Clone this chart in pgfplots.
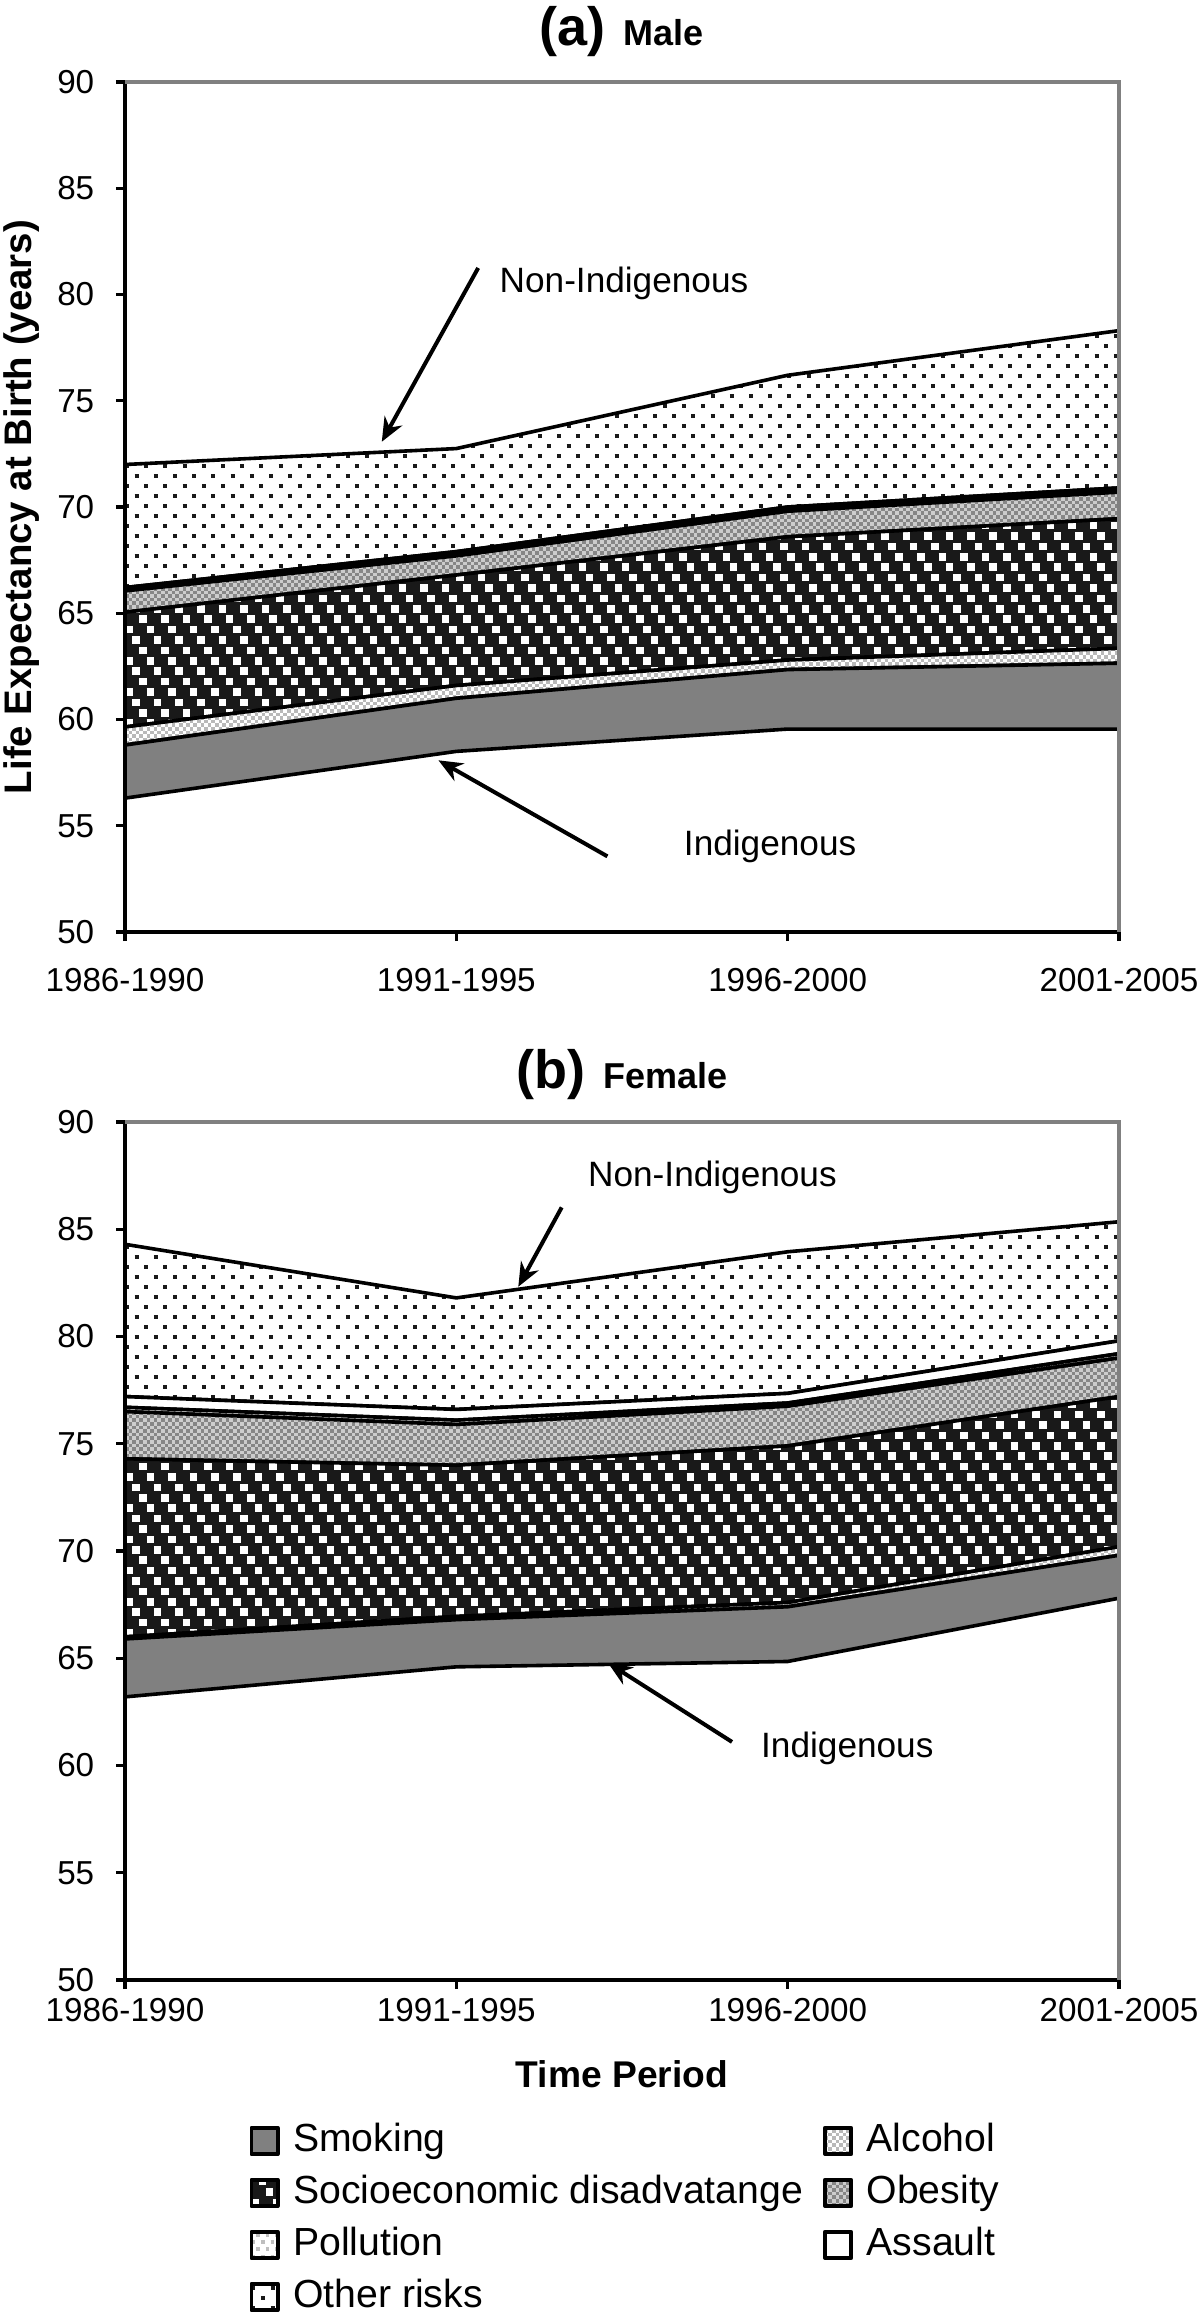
\documentclass[border=0pt]{standalone}
\usepackage{fontspec}
\setmainfont{Liberation Sans}
\usepackage{pgfplots}
\pgfplotsset{compat=1.18}
\usetikzlibrary{arrows.meta}

% texture made of dashed rows, clipped to the filled area (basic layer only)
% #1 colour, #2 dot size, #3 gap, #4 row pitch, #5 shift per row, #6 rows
\newcommand\rowtexture[6]{%
  \begin{pgfscope}%
  \pgfsetstrokecolor{#1}%
  \pgfsetlinewidth{#2}%
  \pgfsetbuttcap
  \pgfpointanchor{path picture bounding box}{south west}\pgfgetlastxy\llx\lly
  \pgfpointanchor{path picture bounding box}{north east}\pgfgetlastxy\urx\ury
  \foreach \i in {0,...,#6}{%
    \pgfmathsetmacro\ph{mod(\i*#5,#2+#3)}%
    \pgfmathsetmacro\yy{\lly+\i*#4+0.5*#2}%
    \pgfsetdash{{#2}{#3}}{\ph pt}%
    \pgfpathmoveto{\pgfqpoint{\llx}{\yy pt}}%
    \pgfpathlineto{\pgfqpoint{\urx}{\yy pt}}%
    \pgfusepath{stroke}%
  }%
  \end{pgfscope}}

\tikzset{
  arr/.style={line width=1pt, -{Stealth[length=6pt,width=5pt]}},
  note/.style={font=\fontsize{8.8}{10}\selectfont},
}

\pgfplotsset{
  edge/.style={draw=black, line width=0.9pt, line join=round},
  smoking/.style={fill=gray, edge},
  alcohol/.style={fill=white, edge,
    path picture={\rowtexture{gray!55}{0.9pt}{0.9pt}{0.9pt}{0.9pt}{42}}},
  socio/.style={fill=black!90, edge,
    path picture={\rowtexture{white}{1.9pt}{3.5pt}{2.6pt}{1.8pt}{28}}},
  obesity/.style={fill=gray!40, edge,
    path picture={\rowtexture{gray!95}{0.9pt}{0.9pt}{0.9pt}{0.9pt}{42}}},
  pollution/.style={fill=white, edge,
    path picture={\rowtexture{gray!50}{0.9pt}{1.5pt}{1.8pt}{1.2pt}{22}}},
  assault/.style={fill=white, edge},
  other/.style={fill=white, edge,
    path picture={\rowtexture{black!90}{1pt}{3.8pt}{2.5pt}{2.4pt}{30}}},
  common/.style={
    scale only axis, width=248.5pt,
    anchor=north west,
    xmin=0, xmax=3, ymin=50, ymax=90,
    xtick={0,1,2,3},
    xticklabels={1986-1990,1991-1995,1996-2000,2001-2005},
    ytick={50,55,...,90},
    axis lines=left,
    axis line style={-, line width=0.8pt},
    tick style={black, line width=0.8pt},
    major tick length=2.25pt,
    tick align=outside,
    stack plots=y,
    clip=false,
    /pgf/number format/assume math mode=true,
    ticklabel style={font=\fontsize{8.3}{10}\selectfont},
    yticklabel style={anchor=east, inner sep=0pt, xshift=-5.25pt},
    title style={at={(axis description cs:0.5,1)}, anchor=base, inner sep=0pt},
    legend image code/.code={
      \draw[##1] (0pt,-3.3pt) rectangle (6.6pt,3.3pt);
    },
  },
}

\begin{document}
\begin{tikzpicture}
\path[use as bounding box] (0,0) rectangle (300pt,-580.5pt);

% (a) Male
\begin{axis}[common,
  at={(31.25pt,-20.5pt)}, height=212.5pt,
  title={{\fontsize{13.5}{15}\selectfont\bfseries (a)}\hspace{4.5pt}{\fontsize{9}{10}\selectfont\bfseries Male}},
  title style={yshift=3pt},
  xticklabel style={anchor=base, yshift=-12.6pt},
  ylabel={Life Expectancy at Birth (years)},
  ylabel style={at={(axis description cs:-0.0855,0.5)}, anchor=south, inner sep=0pt,
    font=\fontsize{9.6}{11}\selectfont\bfseries},
]
\draw[gray, line width=0.8pt] (rel axis cs:0,1) -- (rel axis cs:1,1) -- (rel axis cs:1,0);
\addplot[draw=none, forget plot] coordinates {(0,56.3) (1,58.5) (2,59.55) (3,59.55)};
\addplot[smoking]   coordinates {(0,2.5) (1,2.5) (2,2.8) (3,3.1)} \closedcycle;
\addplot[alcohol]   coordinates {(0,0.85) (1,0.6) (2,0.45) (3,0.7)} \closedcycle;
\addplot[socio]     coordinates {(0,5.4) (1,5.2) (2,5.8) (3,6.1)} \closedcycle;
\addplot[obesity]   coordinates {(0,1.0) (1,0.9) (2,1.2) (3,1.25)} \closedcycle;
\addplot[pollution] coordinates {(0,0.08) (1,0.08) (2,0.08) (3,0.08)} \closedcycle;
\addplot[assault]   coordinates {(0,0.08) (1,0.12) (2,0.12) (3,0.12)} \closedcycle;
\addplot[other]     coordinates {(0,5.79) (1,4.85) (2,6.2) (3,7.4)} \closedcycle;
\node[note] at (axis cs:1.506,80.5) {Non-Indigenous};
\draw[arr] (axis cs:1.066,81.25) -- (axis cs:0.775,73.07);
\node[note] at (axis cs:1.947,54.05) {Indigenous};
\draw[arr] (axis cs:1.456,53.56) -- (axis cs:0.946,58.08);
\end{axis}

% (b) Female
\begin{axis}[common,
  at={(31.25pt,-280.5pt)}, height=214.5pt,
  title={{\fontsize{13.5}{15}\selectfont\bfseries (b)}\hspace{4.5pt}{\fontsize{9}{10}\selectfont\bfseries Female}},
  title style={yshift=2.5pt},
  xticklabel style={anchor=base, yshift=-8.2pt},
  xlabel={Time Period},
  xlabel style={at={(axis description cs:0.5,0)}, anchor=base, yshift=-26.75pt,
    font=\fontsize{9.3}{11}\selectfont\bfseries},
  legend columns=2,
  legend style={at={(axis description cs:0.1245,-0.1645)}, anchor=north west,
    draw=none, fill=none, inner sep=0pt,
    font=\fontsize{9.8}{11}\selectfont,
    nodes={inner sep=0pt, text height=7.3pt, text depth=2.2pt},
    row sep=3.5pt,
    cells={anchor=west},
    /tikz/every odd column/.append style={column sep=3.4pt},
    /tikz/every even column/.append style={column sep=5pt}},
]
\draw[gray, line width=0.8pt] (rel axis cs:0,1) -- (rel axis cs:1,1) -- (rel axis cs:1,0);
\addplot[draw=none, forget plot] coordinates {(0,63.2) (1,64.6) (2,64.85) (3,67.8)};
\addplot[smoking]   coordinates {(0,2.7) (1,2.2) (2,2.55) (3,2.0)} \closedcycle;
\addplot[alcohol]   coordinates {(0,0.1) (1,0.15) (2,0.2) (3,0.4)} \closedcycle;
\addplot[socio]     coordinates {(0,8.3) (1,7.05) (2,7.3) (3,7.0)} \closedcycle;
\addplot[obesity]   coordinates {(0,2.2) (1,1.9) (2,1.85) (3,1.8)} \closedcycle;
\addplot[pollution] coordinates {(0,0.2) (1,0.2) (2,0.15) (3,0.2)} \closedcycle;
\addplot[assault]   coordinates {(0,0.5) (1,0.5) (2,0.45) (3,0.6)} \closedcycle;
\addplot[other]     coordinates {(0,7.1) (1,5.2) (2,6.6) (3,5.55)} \closedcycle;
\legend{Smoking, Alcohol, Socioeconomic disadvatange, Obesity, Pollution, Assault, Other risks}
\node[note] at (axis cs:1.773,87.4) {Non-Indigenous};
\draw[arr] (axis cs:1.318,86.02) -- (axis cs:1.187,82.32);
\node[note] at (axis cs:2.18,60.82) {Indigenous};
\draw[arr] (axis cs:1.832,61.1) -- (axis cs:1.458,64.78);
\end{axis}
\end{tikzpicture}
\end{document}
